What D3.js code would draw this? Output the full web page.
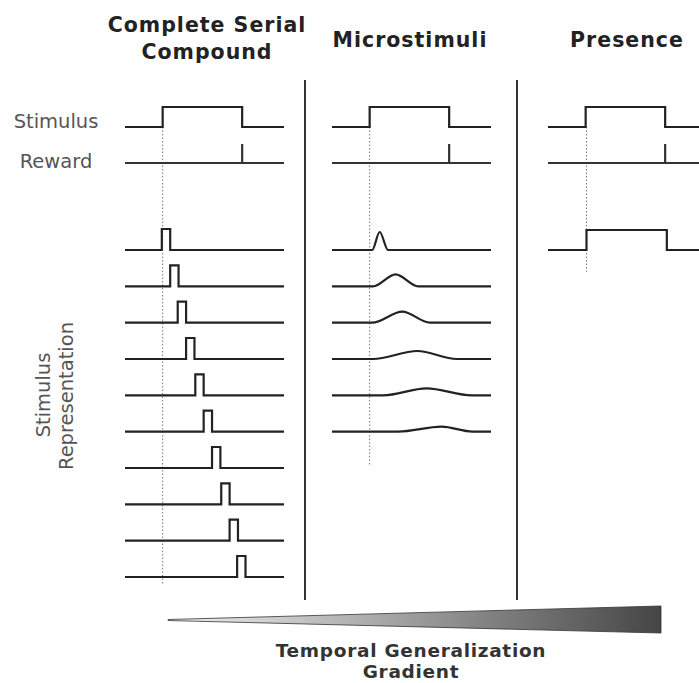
<!DOCTYPE html>
<html>
<head>
<meta charset="utf-8">
<script src="https://cdn.jsdelivr.net/npm/d3@7"></script>
<style>
  body { margin: 0; background: #fff; }
  svg text { font-family: "DejaVu Sans", Verdana, sans-serif; }
</style>
</head>
<body>
<div id="chart"></div>
<script>
// time in arbitrary steps, amplitude 0..1
const panelTitles = [["Complete Serial", "Compound"], ["Microstimuli"], ["Presence"]];
const stimOn = 4.5;
const stimOff = 14.0;
const rewardTime = 14.0;

// complete serial compound: start of each pulse (width 1 step)
const cscPulseStarts = [4.4, 5.4, 6.3, 7.3, 8.4, 9.4, 10.4, 11.5, 12.5, 13.4];
const cscPulseWidth = 1.0;

// microstimuli: rise start, peak, end, height
const microStart = [4.8, 4.9, 4.8, 4.9, 6.1, 7.9];
const microPeak = [5.7, 7.6, 8.4, 10.2, 11.3, 13.1];
const microEnd = [6.7, 10.3, 11.7, 14.9, 16.7, 16.8];
const microHeight = [0.9, 0.6, 0.55, 0.4, 0.35, 0.25];

// presence: one unit on while stimulus is present
const presenceOn = 4.6;
const presenceOff = 14.2;

const width = 699;
const height = 683;

let svg = d3.select("#chart")
    .append("svg")
    .attr("width", width)
    .attr("height", height);

let panelX = [125, 332, 548];
let tScale = d3.scaleLinear().domain([0, 19]).range([0, 159]);
let ampScale = d3.scaleLinear().domain([0, 1]).range([0, -20]);
let rowY = d3.scaleLinear().domain([0, 9]).range([250, 577]);
const stimY = 127;
const rewardY = 163;

let line = d3.line()
    .x(d => tScale(d[0]))
    .y(d => ampScale(d[1]));

let smoothLine = d3.line()
    .x(d => tScale(d[0]))
    .y(d => ampScale(d[1]))
    .curve(d3.curveMonotoneX);

let stepWave = (on, off) => [[0, 0], [on, 0], [on, 1], [off, 1], [off, 0], [19, 0]];

// titles
let titleX = [207, 410, 627];
let titleY = [[32, 59], [47], [47]];
panelTitles.forEach((lines, p) => {
    svg.append("text")
        .attr("x", titleX[p])
        .attr("text-anchor", "middle")
        .attr("fill", "#222")
        .style("font-size", "20.5px")
        .style("font-weight", "bold")
        .style("letter-spacing", "1px")
        .selectAll("tspan")
        .data(lines)
        .join("tspan")
        .attr("x", titleX[p])
        .attr("y", (d, i) => titleY[p][i])
        .text(d => d);
});

// row labels
svg.append("text")
    .attr("x", 56).attr("y", 128)
    .attr("text-anchor", "middle")
    .attr("fill", "#555")
    .style("font-size", "19.5px")
    .text("Stimulus");

svg.append("text")
    .attr("x", 56).attr("y", 168)
    .attr("text-anchor", "middle")
    .attr("fill", "#555")
    .style("font-size", "19.5px")
    .text("Reward");

svg.append("text")
    .attr("transform", "translate(50, 395) rotate(-90)")
    .attr("text-anchor", "middle")
    .attr("fill", "#555")
    .style("font-size", "19.5px")
    .text("Stimulus");

svg.append("text")
    .attr("transform", "translate(73, 396) rotate(-90)")
    .attr("text-anchor", "middle")
    .attr("fill", "#555")
    .style("font-size", "19.5px")
    .text("Representation");

// dividers
[305, 517].forEach(x => {
    svg.append("line")
        .attr("x1", x).attr("x2", x)
        .attr("y1", 80).attr("y2", 600)
        .attr("stroke", "#333")
        .attr("stroke-width", 2);
});

// onset dotted lines, reaching down through each panel's rows
let dottedEnd = [9.22, 5.95, 0.6];
panelX.forEach((x0, p) => {
    let onset = p === 2 ? presenceOn : stimOn;
    svg.append("line")
        .attr("x1", x0 + tScale(onset)).attr("x2", x0 + tScale(onset))
        .attr("y1", stimY).attr("y2", rowY(dottedEnd[p]))
        .attr("stroke", "#777")
        .attr("stroke-width", 1)
        .attr("stroke-dasharray", "1.5,2");
});

// stimulus and reward traces in each panel
panelX.forEach(x0 => {
    svg.append("path")
        .attr("transform", `translate(${x0}, ${stimY})`)
        .attr("d", line(stepWave(stimOn, stimOff)))
        .attr("fill", "none")
        .attr("stroke", "#222")
        .attr("stroke-width", 2.2);

    svg.append("path")
        .attr("transform", `translate(${x0}, ${rewardY})`)
        .attr("d", line([[0, 0], [rewardTime, 0], [rewardTime, 0.95], [rewardTime, 0], [19, 0]]))
        .attr("fill", "none")
        .attr("stroke", "#333")
        .attr("stroke-width", 2.2);
});

// CSP pulses
svg.append("g")
    .selectAll("path")
    .data(cscPulseStarts)
    .join("path")
    .attr("transform", (d, i) => `translate(${panelX[0]}, ${rowY(i)})`)
    .attr("d", d => line([[0, 0], [d, 0], [d, 1.05], [d + cscPulseWidth, 1.05], [d + cscPulseWidth, 0], [19, 0]]))
    .attr("fill", "none")
    .attr("stroke", "#222")
    .attr("stroke-width", 2.2);

// microstimuli
svg.append("g")
    .selectAll("path")
    .data(microPeak)
    .join("path")
    .attr("transform", (d, i) => `translate(${panelX[1]}, ${rowY(i)})`)
    .attr("d", (d, i) => smoothLine([[0, 0], [microStart[i], 0], [d, microHeight[i]], [microEnd[i], 0], [19, 0]]))
    .attr("fill", "none")
    .attr("stroke", "#222")
    .attr("stroke-width", 2.2);

// presence
svg.append("path")
    .attr("transform", `translate(${panelX[2]}, ${rowY(0)})`)
    .attr("d", line(stepWave(presenceOn, presenceOff)))
    .attr("fill", "none")
    .attr("stroke", "#222")
    .attr("stroke-width", 2.2);

// temporal generalization wedge
let defs = svg.append("defs");
let grad = defs.append("linearGradient")
    .attr("id", "wedge-grad")
    .attr("x1", "0%").attr("x2", "100%")
    .attr("y1", "0%").attr("y2", "0%");
grad.append("stop").attr("offset", "0%").attr("stop-color", "#f2f2f2");
grad.append("stop").attr("offset", "100%").attr("stop-color", "#454545");

svg.append("path")
    .attr("d", "M168,619.5 L661,606 L661,633 L168,620.5 Z")
    .attr("fill", "url(#wedge-grad)")
    .attr("stroke", "#333")
    .attr("stroke-width", 0.8);

svg.append("text")
    .attr("text-anchor", "middle")
    .attr("fill", "#333")
    .style("font-size", "18.5px")
    .style("font-weight", "bold")
    .style("letter-spacing", "0.7px")
    .selectAll("tspan")
    .data(["Temporal Generalization", "Gradient"])
    .join("tspan")
    .attr("x", 411)
    .attr("y", (d, i) => 657 + i * 21)
    .text(d => d);
</script>
</body>
</html>
